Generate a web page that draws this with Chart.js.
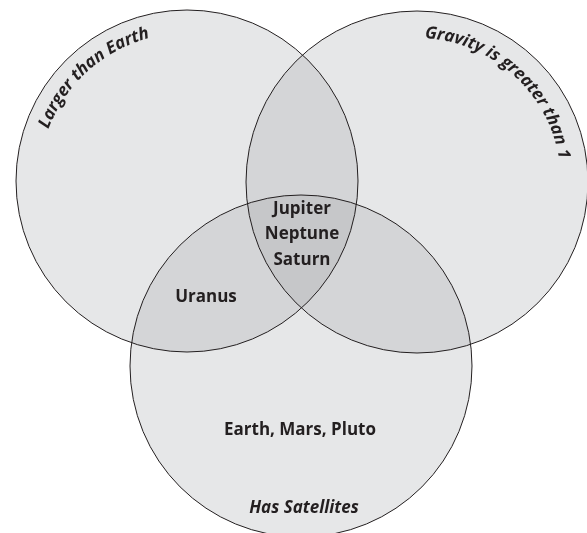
<!DOCTYPE html>
<html>
<head>
<meta charset="utf-8">
<script src="https://cdn.jsdelivr.net/npm/chart.js@4.4.1/dist/chart.umd.min.js"></script>
<style>
  html, body { margin: 0; padding: 0; background: #fff; }
  #wrap { width: 587px; height: 533px; }
</style>
</head>
<body>
<div id="wrap"><canvas id="venn"></canvas></div>
<script>
// sets (circles), in the same units as the axes
const setNames = ['Larger than Earth', 'Gravity is greater than 1', 'Has Satellites'];
const centerX = [187, 417, 301];
const centerY = [181, 182, 366];
const radii = [171, 171, 171];

// what sits in each region
const regionText = [['Jupiter', 'Neptune', 'Saturn'], ['Uranus'], ['Earth, Mars, Pluto']];
const regionX = [302, 206, 300];
const regionY = [209, 297, 430];

const ink = '#231f20';
const shade = ['#e6e7e8', '#d4d5d7', '#c6c7c9'];
const bold = 'bold 17px "Open Sans"';
const boldItalic = 'italic bold 17px "Open Sans"';

function toPx(chart, i) {
    const x = chart.scales.x, y = chart.scales.y;
    return {
        x: x.getPixelForValue(centerX[i]),
        y: y.getPixelForValue(centerY[i]),
        r: x.getPixelForValue(radii[i]) - x.getPixelForValue(0)
    };
}

// text bent along a circle, letters standing outwards
function arcText(ctx, text, cx, cy, r, midDeg) {
    const total = ctx.measureText(text).width;
    let a = midDeg * Math.PI / 180 - total / (2 * r);
    for (const ch of text) {
        const w = ctx.measureText(ch).width;
        const ang = a + w / (2 * r);
        ctx.save();
        ctx.translate(cx + r * Math.cos(ang), cy + r * Math.sin(ang));
        ctx.rotate(ang + Math.PI / 2);
        ctx.fillText(ch, 0, 0);
        ctx.restore();
        a += w / r;
    }
}

const vennShading = {
    id: 'vennShading',
    beforeDatasetsDraw(chart) {
        const ctx = chart.ctx;
        const c = [0, 1, 2].map(i => toPx(chart, i));
        const circle = k => { ctx.beginPath(); ctx.arc(k.x, k.y, k.r, 0, Math.PI * 2); };
        ctx.save();
        ctx.fillStyle = shade[0];
        c.forEach(k => { circle(k); ctx.fill(); });
        ctx.fillStyle = shade[1];
        for (let i = 0; i < 3; i++) {
            for (let j = i + 1; j < 3; j++) {
                ctx.save();
                circle(c[i]); ctx.clip();
                circle(c[j]); ctx.fill();
                ctx.restore();
            }
        }
        ctx.fillStyle = shade[2];
        circle(c[0]); ctx.clip();
        circle(c[1]); ctx.clip();
        circle(c[2]); ctx.fill();
        ctx.restore();
    },
    afterDatasetsDraw(chart) {
        const ctx = chart.ctx;
        const x = chart.scales.x, y = chart.scales.y;
        ctx.save();
        ctx.fillStyle = ink;
        ctx.textAlign = 'center';
        ctx.textBaseline = 'middle';
        ctx.font = bold;
        regionText.forEach((lines, i) => {
            lines.forEach((t, k) => {
                ctx.fillText(t, x.getPixelForValue(regionX[i]), y.getPixelForValue(regionY[i] + k * 25.5));
            });
        });
        ctx.font = boldItalic;
        ctx.textBaseline = 'alphabetic';
        const a = toPx(chart, 0), b = toPx(chart, 1), s = toPx(chart, 2);
        arcText(ctx, setNames[0], a.x, a.y, 148, -132);
        arcText(ctx, setNames[1], b.x, b.y, 144, -48);
        ctx.textBaseline = 'middle';
        ctx.fillText(setNames[2], s.x + 3, s.y + 142);
        ctx.restore();
    }
};

new Chart(document.getElementById('venn'), {
    type: 'scatter',
    data: {
        datasets: [{
            data: centerX.map((cx, i) => ({x: cx, y: centerY[i]})),
            pointBackgroundColor: 'rgba(0,0,0,0)',
            pointBorderColor: ink,
            pointBorderWidth: 1,
            // circle size in axis units -> pixels
            pointRadius: c => toPx(c.chart, c.dataIndex).r,
            clip: false
        }]
    },
    options: {
        responsive: true,
        maintainAspectRatio: false,
        animation: false,
        events: [],
        layout: { padding: 0 },
        plugins: { legend: { display: false }, tooltip: { enabled: false } },
        scales: {
            x: { type: 'linear', min: 0, max: 587, display: false },
            y: { type: 'linear', min: 0, max: 533, reverse: true, display: false }
        }
    },
    plugins: [vennShading]
});
</script>
</body>
</html>
